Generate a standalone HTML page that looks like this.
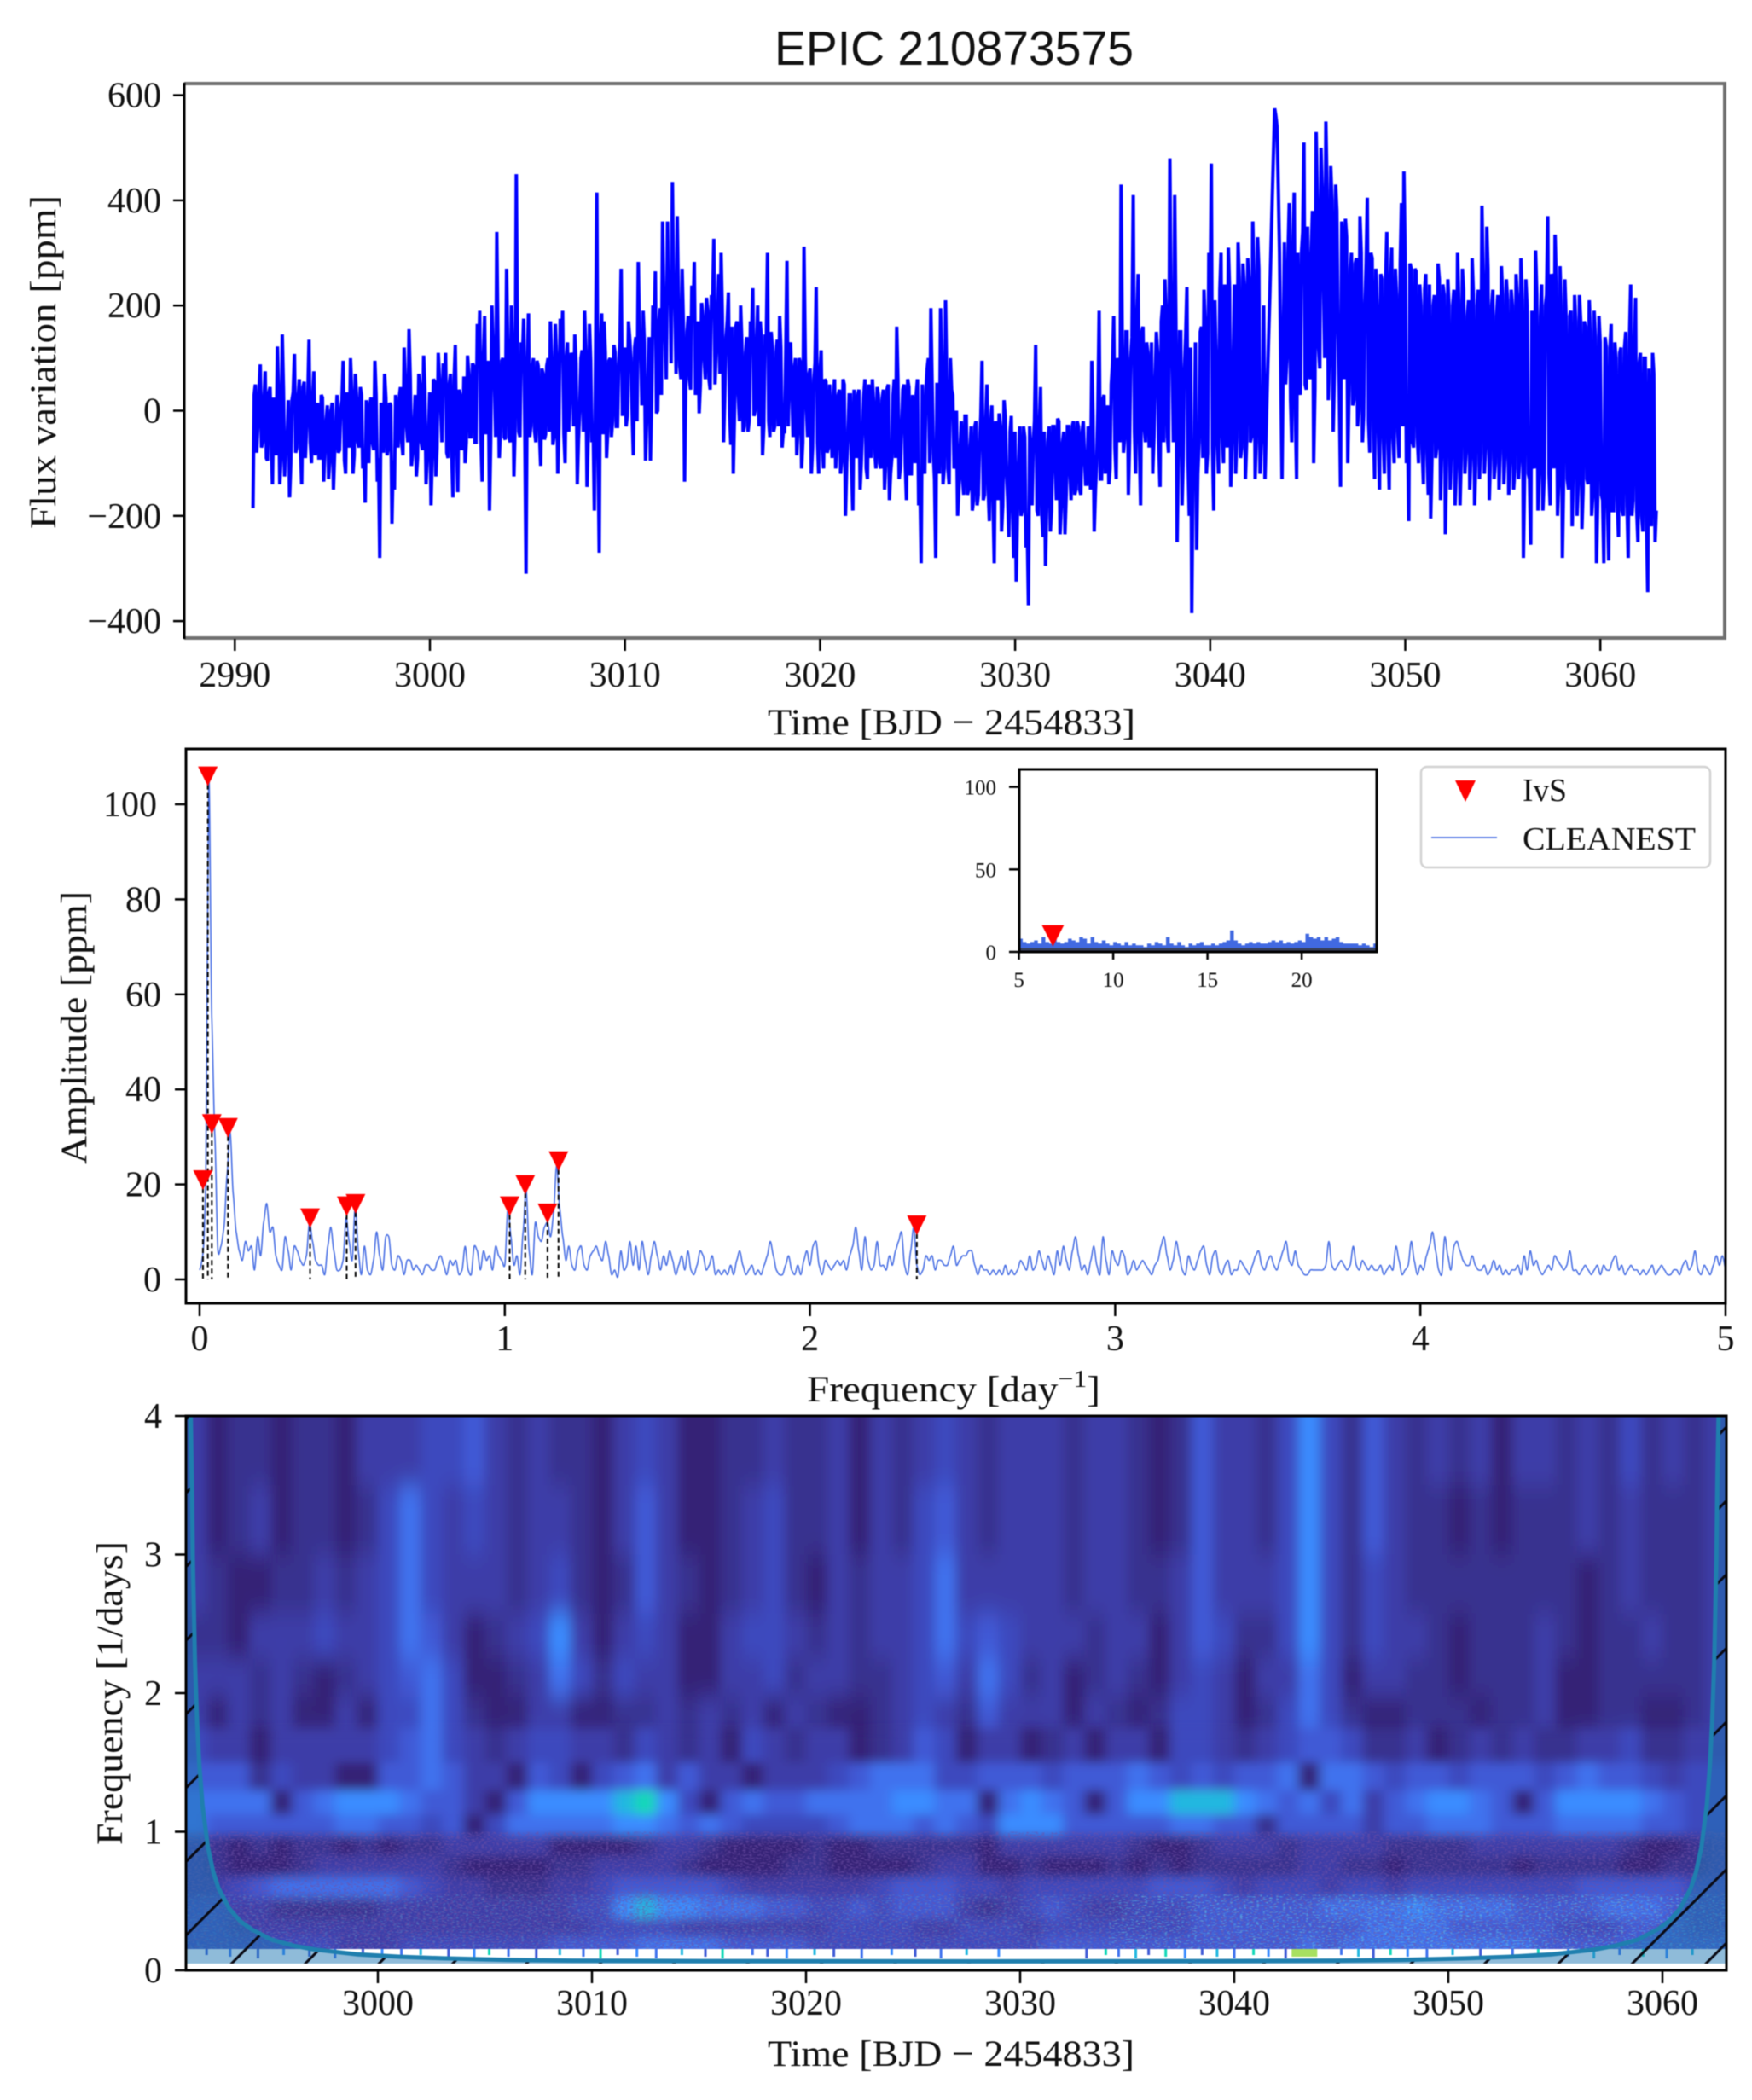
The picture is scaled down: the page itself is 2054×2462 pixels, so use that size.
<!DOCTYPE html>
<html lang="en">
<head>
<meta charset="utf-8">
<title>EPIC 210873575</title>
<style>
html,body{margin:0;padding:0;background:#fff;width:2054px;height:2462px;overflow:hidden}
svg{display:block;filter:blur(0.6px)}
text{font-family:"Liberation Serif",serif;fill:#111}
.tick{font-size:42px}
.axt{font-size:43px}
.ins{font-size:25px}
.leg{font-size:38px}
</style>
</head>
<body>
<svg id="fig" xmlns="http://www.w3.org/2000/svg" width="2054" height="2462" viewBox="0 0 2054 2462">
<defs>
<clipPath id="heat-clip"><rect x="218" y="1660" width="1806" height="650"/></clipPath>
<clipPath id="coi-clip"><path id="coi-clip-path" d=""/></clipPath>
<filter id="heat-blur-high" filterUnits="userSpaceOnUse" x="100" y="1400" width="2040" height="1100"><feGaussianBlur stdDeviation="7 14"/></filter>
<filter id="heat-blur-low" filterUnits="userSpaceOnUse" x="100" y="1800" width="2040" height="700"><feGaussianBlur stdDeviation="7 6"/></filter>
<filter id="speckle" x="0" y="0" width="1" height="1"><feTurbulence type="fractalNoise" baseFrequency="0.28 0.55" numOctaves="2" seed="3"/><feColorMatrix type="matrix" values="0 0 0 0 0.16  0 0 0 0 0.08  0 0 0 0 0.38  4 0 0 0 -1.8"/></filter>
<filter id="speckle-bright" x="0" y="0" width="1" height="1"><feTurbulence type="fractalNoise" baseFrequency="0.26 0.6" numOctaves="2" seed="11"/><feColorMatrix type="matrix" values="0 0 0 0 0.12  0 0 0 0 0.72  0 0 0 0 0.86  4.5 0 0 0 -2.4"/></filter>
</defs>
<rect x="0" y="0" width="2054" height="2462" fill="#fff"/>

<text x="908" y="76" style="font-family:'Liberation Sans',sans-serif;font-size:57px" textLength="421" lengthAdjust="spacingAndGlyphs">EPIC 210873575</text>

<g id="p1"></g>
<text class="axt" x="900" y="861" textLength="431" lengthAdjust="spacingAndGlyphs">Time [BJD − 2454833]</text>
<text class="axt" transform="translate(65 620) rotate(-90)" textLength="391" lengthAdjust="spacingAndGlyphs">Flux variation [ppm]</text>

<g id="p2"></g>
<text class="axt" x="946" y="1643" textLength="344" lengthAdjust="spacingAndGlyphs">Frequency [day<tspan font-size="29" dy="-17">−1</tspan><tspan dy="17">]</tspan></text>
<text class="axt" transform="translate(101 1365) rotate(-90)" textLength="320" lengthAdjust="spacingAndGlyphs">Amplitude [ppm]</text>

<g id="inset"></g>

<g>
<rect x="1666" y="899" width="339" height="118" rx="7" fill="#fff" fill-opacity="0.85" stroke="#d2d2d2" stroke-width="2.5"/>
<path d="M1706 915 L1730 915 L1718 940 Z" fill="#ff0000"/>
<text class="leg" x="1785" y="939" textLength="52" lengthAdjust="spacingAndGlyphs">IvS</text>
<line x1="1678" y1="982" x2="1755" y2="982" stroke="#6a8ae8" stroke-width="2"/>
<text class="leg" x="1785" y="996" textLength="203" lengthAdjust="spacingAndGlyphs">CLEANEST</text>
</g>

<g id="p3"></g>
<text class="axt" x="900" y="2422" textLength="430" lengthAdjust="spacingAndGlyphs">Time [BJD − 2454833]</text>
<text class="axt" transform="translate(143 2163) rotate(-90)" textLength="356" lengthAdjust="spacingAndGlyphs">Frequency [1/days]</text>
</svg>

<script>
/* ---------- light curve data ---------- */
const fluxStart = 2990.93;
const fluxStep = 0.125;
const fluxValues = [
-185,50,-30,88,-60,75,-95,45,
-140,-15,122,-140,145,-125,-60,-165,
20,108,-70,60,-140,55,-30,135,
-100,75,-60,-90,30,-135,-20,-130,
0,-150,-20,-80,5,95,-120,-30,
100,-120,70,-60,45,-110,-175,-30,
15,-60,95,-135,-280,0,70,-85,
15,-215,-150,-35,25,-60,120,-30,
155,-105,-30,-125,70,-60,105,-140,
-40,-180,60,-125,110,10,90,110,
-90,70,-165,125,-155,30,-60,-100,
105,-50,90,-60,165,190,-135,180,
0,-190,200,60,340,-90,95,-50,
270,-50,200,-125,450,-40,130,175,
-310,185,-30,100,-60,85,-105,70,
-45,100,170,-65,165,-120,175,190,
-100,130,20,100,145,-140,0,115,
190,-145,165,-60,-190,415,-270,185,
170,-90,95,-50,125,-30,90,270,
100,-30,170,100,-85,140,283,120,
190,-95,60,-95,200,265,0,195,
360,140,360,250,435,210,370,85,
270,-135,150,60,238,283,100,-5,
205,100,215,60,220,327,110,260,
300,-60,140,225,-65,-120,160,30,
200,-40,110,-40,170,233,0,200,
170,-85,145,300,-50,120,-30,135,
180,-70,-40,285,120,30,80,-85,
100,-110,312,0,70,-120,60,235,
-120,115,-110,55,-70,-15,25,-110,
30,-120,60,-200,-50,30,-190,-60,
30,-150,-30,60,-130,25,60,-80,
45,-100,20,-150,40,-170,-90,60,
160,-130,-30,50,-170,45,-120,-10,
30,-180,-290,-100,40,100,195,-80,
-280,50,195,-140,210,-110,100,30,
-100,-200,-70,-130,-10,-160,-80,-190,
-30,-180,-60,95,-160,50,-210,10,
-290,-50,-5,-230,20,-120,-240,-10,
-280,-325,-100,-200,-30,-260,-370,-90,
-60,125,-200,45,-240,-295,-60,-230,
-30,-100,-15,-235,-60,-235,-30,-120,
-30,-160,-20,-150,-40,-90,-140,-40,
95,-230,-100,190,-130,30,-30,-140,
50,180,-130,90,430,-80,150,-160,
100,410,-120,260,-180,160,-60,110,
0,-120,60,110,-145,200,250,-50,
480,100,410,-250,150,-180,80,235,
-200,-385,-100,-265,-60,160,230,-120,
300,470,-190,100,-120,300,-100,50,
310,-145,100,-120,320,-90,280,-130,
290,-60,360,-130,330,-120,-40,-130,
50,220,400,575,540,300,-130,320,
100,395,-60,415,-130,100,300,510,
40,100,300,-100,530,120,500,250,
550,20,465,-40,430,150,-145,300,
365,-100,270,10,280,-30,370,-60,
200,405,-80,290,-130,200,-150,250,
-120,340,-150,310,-100,220,-90,395,
455,-100,-210,270,-70,265,-100,200,
-140,260,-160,-205,200,-90,280,-170,
240,-235,250,-150,200,-180,300,-180,
270,-120,180,-150,290,-180,200,-130,
390,-120,350,-170,200,-130,180,-150,
275,-140,250,-160,230,-150,260,-130,
290,-280,250,-120,-255,-100,305,-190,
180,-190,200,370,-180,250,335,-200,
275,-280,250,-130,180,-220,220,-200,
220,-225,170,-130,210,-200,190,-290,
180,-160,-290,120,-285,165,-190,100,
-240,120,-200,150,-280,240,-170,215,
-250,110,-230,100,-345,-100,110,-250
];
/* samples falling half a step after each fluxValues sample */
const fluxMidValues = [
30,-80,40,-70,20,-90,35,-60,
25,-85,30,-95,40,-70,20,-100,
35,-80,25,-75,45,-90,30,-60,
20,-85,15,-90,25,-70,10,-95,
15,-80,30,-75,20,-95,35,-70,
40,-85,25,-70,30,-90,20,-100,
25,-75,30,-90,15,-80,25,-70,
10,-95,30,-70,45,-85,55,-60,
60,-80,30,-90,50,-75,40,-85,
35,-90,55,-70,60,-60,45,-80,
50,-85,60,-70,40,-75,65,-60,
70,-50,85,-60,90,-55,100,-45,
95,-60,110,-50,120,-40,100,-55,
130,-60,110,-30,120,-50,100,-40,
90,-50,85,-40,95,-45,80,-55,
85,-40,95,-50,100,-30,110,-45,
100,-40,110,-30,90,-55,100,-40,
110,-50,95,-30,100,-60,120,-45,
110,-40,100,-20,110,-30,130,-10,
120,-10,140,0,120,-20,150,10,
130,-10,140,20,150,-5,170,30,
200,60,220,90,230,70,200,60,
170,50,180,40,190,30,170,50,
180,60,190,40,200,50,190,70,
180,30,170,-10,160,0,170,-20,
130,-30,140,-20,150,-10,130,-30,
140,-30,120,-20,150,-40,110,-30,
120,-40,110,-30,130,-50,100,-40,
90,-60,100,-50,80,-70,90,-60,
70,-70,60,-80,50,-90,60,-70,
40,-90,50,-100,30,-110,40,-90,
40,-100,30,-110,50,-90,20,-110,
30,-110,40,-100,50,-120,30,-90,
60,-110,40,-100,60,-120,30,-100,
60,-130,50,-120,80,-100,60,-130,
50,-120,90,-110,60,-140,40,-110,
0,-150,-20,-160,-10,-150,-30,-170,
-20,-160,-10,-170,-30,-150,-20,-170,
-20,-170,-30,-180,-10,-170,-40,-190,
-40,-200,-30,-190,-50,-210,-30,-180,
-20,-190,-30,-200,-40,-180,-30,-190,
-30,-170,-20,-180,-40,-160,-30,-170,
-20,-150,-30,-160,-20,-140,-30,-150,
-10,-150,0,-130,20,-120,10,-110,
90,-70,100,-60,130,-50,150,-60,
140,-40,170,-60,150,-30,130,-70,
130,-50,150,-70,170,-60,180,-80,
190,-60,170,-70,150,-90,140,-100,
120,-130,130,-120,150,-90,170,-80,
190,-70,210,-60,230,-50,240,-70,
230,-60,240,-50,250,-70,240,-60,
250,-50,260,-60,270,-60,200,-40,
135,310,490,560,420,90,100,50,
300,20,320,-10,300,30,340,50,
350,60,380,40,400,80,420,100,
420,90,400,70,380,50,360,60,
330,40,300,20,290,0,300,-10,
280,-20,300,-30,270,-40,260,-50,
250,-60,260,-50,270,-40,280,-30,
300,-30,280,-60,270,-50,240,-70,
230,-80,240,-90,220,-70,250,-80,
220,-100,200,-90,230,-110,210,-90,
230,-80,210,-90,220,-100,230,-80,
260,-70,270,-90,230,-100,220,-80,
220,-90,210,-100,200,-110,220,-90,
210,-120,200,-130,190,-110,220,-120,
240,-130,220,-120,260,-110,240,-140,
200,-140,180,-150,190,-130,170,-140,
170,-150,160,-140,150,-160,140,-170,
130,-170,140,-180,120,-190,130,-170,
110,-190,120,-180,130,-200,140,-190,
90,-200,100,-210,80,-220,70,-190
];
const fluxXTicks = [2990,3000,3010,3020,3030,3040,3050,3060];
const fluxYTicks = [-400,-200,0,200,400,600];

/* ---------- spectrum data ---------- */
const specStep = 0.01;
const specAmps = [
2,5,20,106,55,30,6,7,11,22,31,18,10,6,4,8,6,7,2,9,
5,12,16,10,11,5,3,2,9,6,2,7,6,4,3,5,12,8,4,3,
3,1,7,11,6,2,2,4,13,8,4,16,6,1,7,2,1,4,10,5,
2,9,9,3,2,5,4,1,4,4,2,3,2,1,3,3,2,2,4,5,
3,1,4,3,4,1,2,7,2,1,7,6,2,6,4,5,2,7,5,4,
3,15,9,3,5,1,10,19,6,1,12,9,8,11,12,9,14,24,15,9,
4,7,3,2,6,7,3,2,5,6,7,5,4,8,5,1,2,0.5,6,2,
3,8,3,7,2,8,4,1,5,8,5,2,5,3,6,4,1,3,5,2,
6,2,1,3,6,5,2,3,5,1,2,1,2,1,3,1,4,6,3,1,
2,3,1,2,1,3,5,8,5,2,1,1,3,5,2,1,3,1,4,6,
3,7,8,3,1,4,3,2,3,4,3,4,2,5,7,11,6,2,9,4,
2,3,8,3,3,2,5,3,6,8,10,3,1,6,11,3,1,2,5,4,
5,2,4,4,3,3,5,7,3,4,5,5,6,6,3,1,3,2,2,1,
2,1,2,1,3,1,2,1,2,4,3,2,5,2,3,6,4,2,5,3,
1,6,3,7,4,2,6,9,5,2,3,1,4,7,3,1,9,4,1,6,
4,3,6,5,1,2,4,2,3,4,3,2,1,3,4,7,9,5,2,4,
8,5,2,1,5,3,2,4,6,7,3,1,5,6,2,1,3,4,1,2,
2,4,3,2,1,3,5,6,3,2,4,5,3,2,4,6,8,4,3,6,
3,2,1,1,2,2,2,2,2,3,8,3,2,3,4,3,2,3,7,3,
2,4,3,2,3,2,2,3,1,2,3,2,7,4,1,2,3,8,4,1,
3,2,5,7,10,6,2,1,9,5,2,7,8,6,4,3,3,5,3,2,
2,3,1,2,4,2,3,1,2,1,2,2,3,1,5,2,6,3,4,2,
1,2,3,2,5,4,3,2,3,6,2,2,1,2,3,2,1,2,3,1,
3,2,2,4,5,2,3,1,2,3,2,2,1,2,1,2,3,1,2,3,
2,1,1,2,2,1,3,4,2,3,6,2,1,3,2,1,3,5,3,5,
2
];
const ivsFreqs = [0.011,0.027,0.04,0.093,0.362,0.482,0.511,1.016,1.067,1.14,1.176,2.35];
const ivsAmps = [21,106,32.8,32,13,15.5,16,15.5,20,14,25,11.5];
const specXTicks = [0,1,2,3,4,5];
const specYTicks = [0,20,40,60,80,100];

/* ---------- inset data ---------- */
const insetStart = 5;
const insetStep = 0.2;
const insetAmps = [
8,6,5,6,7,5,9,6,5,8,
6,5,6,8,7,6,9,8,5,9,
6,5,7,5,4,6,5,4,6,4,
5,4,4,3,5,4,6,5,4,9,
5,4,6,4,3,5,4,5,6,4,
4,5,4,5,6,7,13,7,5,4,
5,6,5,6,5,5,6,7,6,7,
5,6,5,6,7,6,11,9,8,9,
7,9,7,8,9,6,5,5,5,5,
4,5,4,3,5
];
const insetIvsFreqs = [6.8];
const insetIvsAmps = [10];
const insetXTicks = [5,10,15,20];
const insetYTicks = [0,50,100];

/* ---------- wavelet data ---------- */
const heatStartDay = 2991;
const heatFreqs = [3.75,3.25,2.75,2.4,2.1,1.85,1.6,1.4,1.2,1.05,0.9,0.75,0.6,0.45,0.3,0.18];
const heatPalette = ['#33185a','#362476','#39308f','#3c3ca8','#3e49be','#3f5ad6','#3f72ee','#3b8cff','#22b8e0','#14d8b8'];
const heatRow375 = [3,1,2,2,1,2,2,1,3,3, 3,4,4,5,3,2,3,2,2,1, 3,4,3,1,1,2,2,3,2,2, 3,1,3,2,3,4,3,2,3,3, 3,2,3,3,2,1,2,5,3,3, 2,4,7,4,2,5,3,2,3,2, 3,1,3,3,2,3,2,4,2,3, 2,3];
const heatRow325 = [3,1,2,3,1,2,2,1,2,4, 6,4,3,4,3,2,3,3,2,1, 3,5,3,1,1,2,3,4,2,2, 3,1,3,2,4,5,3,2,3,3, 3,2,3,3,2,1,2,5,3,3, 2,4,7,4,2,5,3,2,2,1, 2,1,2,2,2,3,2,3,2,2, 2,3];
const heatRow275 = [3,2,1,1,2,2,3,2,3,4, 6,4,3,3,3,2,3,4,2,1, 2,5,3,2,1,2,3,4,2,1, 3,2,3,3,4,6,3,3,3,3, 3,2,3,3,2,2,3,5,3,3, 3,4,7,4,2,4,3,2,2,2, 2,2,2,2,2,1,2,3,2,2, 2,3];
const heatRow240 = [2,2,1,3,3,3,4,3,3,4, 6,5,3,1,2,3,4,7,3,1, 3,4,3,1,1,3,4,4,3,2, 3,2,3,3,4,6,4,5,4,3, 3,3,2,3,3,1,3,5,4,2, 2,4,7,4,2,4,3,3,2,1, 2,2,2,3,2,1,2,2,3,2, 2,3];
const heatRow210 = [3,3,3,2,3,2,1,2,3,4, 5,6,4,1,1,2,3,6,4,2, 4,3,3,1,1,3,3,4,2,3, 3,2,2,3,4,5,3,6,4,2, 3,1,2,3,2,1,3,4,3,1, 3,3,6,4,1,3,3,2,2,1, 2,2,2,3,1,1,2,2,2,2, 2,3];
const heatRow185 = [3,1,3,2,3,1,1,3,1,4, 4,6,4,2,1,1,3,3,1,1, 2,2,3,2,3,2,3,1,3,2, 1,1,2,3,4,3,2,5,3,3, 3,1,3,2,1,2,4,4,3,1, 2,4,6,4,2,1,1,2,2,2, 1,2,2,3,1,1,2,2,1,1, 2,3];
const heatRow160 = [4,3,3,1,3,3,3,3,3,4, 5,6,4,3,2,3,4,4,3,3, 2,4,3,2,3,1,4,3,2,3, 3,1,2,3,5,4,1,3,3,1, 2,3,1,3,3,1,4,4,3,2, 3,4,5,5,4,2,2,3,1,2, 3,2,3,2,2,3,3,4,2,2, 3,3];
const heatRow140 = [5,5,5,2,4,3,3,1,1,5, 5,6,5,3,3,1,5,4,1,4, 5,6,3,5,3,3,1,3,3,3, 4,5,6,6,6,4,4,5,5,5, 4,5,5,5,6,5,4,5,4,5, 5,6,1,6,6,5,4,5,5,4, 5,5,5,4,5,6,5,5,4,3, 4,4];
const heatRow120 = [6,6,6,6,1,5,6,7,7,7, 6,5,5,3,1,5,7,7,7,7, 8,9,7,4,1,5,6,5,5,6, 6,6,6,7,7,6,6,1,6,7, 6,5,1,5,7,7,8,8,8,7, 6,5,6,4,6,3,5,6,7,7, 6,5,1,5,7,7,7,7,6,5, 4,4];
const heatRow105 = [6,5,5,5,5,5,5,6,6,5, 5,4,5,1,4,6,6,6,6,6, 7,7,6,5,6,5,4,4,4,4, 5,6,6,6,5,6,5,4,7,7, 7,5,5,5,5,5,6,6,5,5, 2,5,5,5,5,3,5,5,6,6, 6,5,5,5,6,6,6,6,5,5, 4,4];
const heatRow090 = [3,2,1,2,1,2,2,1,2,1, 2,2,3,3,3,3,3,1,1,1, 1,2,3,3,2,1,1,1,1,2, 1,1,2,2,2,2,2,1,3,3, 3,3,3,3,2,1,1,2,3,3, 3,2,3,3,3,3,2,2,2,2, 3,3,3,3,3,3,3,2,1,1, 2,3];
const heatRow075 = [3,2,1,1,1,2,3,3,3,3, 3,3,2,1,1,1,1,2,2,3, 3,3,3,2,1,1,1,1,2,2, 1,1,1,1,2,3,3,1,1,2, 1,1,1,2,1,2,1,2,2,2, 2,2,3,3,2,2,1,2,2,2, 2,2,1,2,2,2,2,1,1,2, 2,3];
const heatRow060 = [3,3,4,5,6,6,6,6,6,6, 5,4,3,3,2,2,2,3,3,4, 5,5,5,5,5,4,3,3,3,3, 3,3,4,5,5,5,4,4,3,4, 4,4,4,4,4,5,5,5,4,3, 4,4,4,3,4,4,3,4,4,4, 4,4,4,4,4,5,5,5,5,5, 4,4];
const heatRow045 = [4,4,3,3,2,2,2,2,2,3, 3,3,3,3,3,3,3,3,4,4, 7,8,7,7,6,6,6,5,5,4, 4,5,4,5,5,5,3,2,3,4, 5,4,3,3,4,4,4,5,5,5, 5,5,5,6,6,6,6,7,6,6, 6,6,5,5,5,5,6,6,6,5, 4,4];
const heatRow030 = [4,4,3,3,3,3,3,3,3,3, 3,3,3,3,3,3,3,3,3,4, 4,4,4,3,3,3,3,3,3,3, 4,4,4,4,3,3,4,4,4,3, 4,4,4,4,4,4,4,5,5,5, 5,5,5,5,5,6,6,6,6,5, 5,5,5,5,4,4,4,5,5,5, 4,4];
const heatRow018 = [4,4,4,4,4,4,4,3,3,3, 4,4,4,4,4,4,4,5,5,5, 5,6,6,6,6,5,5,5,5,4, 4,4,4,4,4,4,4,4,4,4, 5,5,5,5,5,5,5,5,5,5, 5,5,6,5,6,6,6,6,6,6, 6,6,6,5,5,5,5,5,5,5, 5,5];
const heatRows = [heatRow375,heatRow325,heatRow275,heatRow240,heatRow210,heatRow185,heatRow160,heatRow140,heatRow120,heatRow105,heatRow090,heatRow075,heatRow060,heatRow045,heatRow030,heatRow018];
const coiOffsets = [0.2,0.25,0.3,0.4,0.5,0.6,0.75,1,1.25,1.5,2,2.5,3,4,5,6,8,10,12,15,18,24,36];
const coiFreqs = [4,3.56,2.97,2.22,1.78,1.48,1.19,0.89,0.71,0.59,0.445,0.356,0.3,0.22,0.178,0.15,0.115,0.098,0.087,0.076,0.07,0.067,0.065];
const stripTicks = [2992,2993.1,2994.4,2995.6,2996.8,2998,2999.3,3000.2,3001.1,3002,3003.3,3004.5,3005.2,3006.1,3007.4,3008.5,3009.6,3010.4,3011.2,3012.1,3013,3014.2,3015.3,3016.1,3017.5,3018.2,3019.1,3020.4,3021.3,3022.6,3024,3025.1,3026.3,3027.5,3029,3033.1,3034,3034.6,3035.4,3036,3036.8,3037.7,3038.5,3039.2,3040,3040.9,3041.6,3042.4,3045,3045.8,3046.5,3047.3,3048.1,3049,3050.2,3051.5,3053,3054.2,3055.6,3056.8,3058,3059.1,3060.2,3061.4];
const stripLevels = [5,6,5,7,5,6,5,7,6,8,5,7,9,6,5,8,6,9,5,7,6,8,5,9,6,5,7,8,5,6,7,5,6,8,7,5,9,6,8,5,9,7,5,8,6,9,7,5,6,8,5,9,7,6,8,5,6,9,7,8,6,9,7,8];
const waveXTicks = [3000,3010,3020,3030,3040,3050,3060];
const waveYTicks = [0,1,2,3,4];

/* ---------- axis functions ---------- */
const fluxX = t => 504 + (t - 3000) * 22.87;
const fluxY = v => 481.5 - v * 0.6165;
const specX = f => 234 + f * 357.8;
const specY = a => 1500 - a * 5.57;
const insetX = f => 1194.6 + (f - 5) * 22.1;
const insetY = a => 1116 - a * 1.934;
const waveX = t => 443 + (t - 3000) * 25.1;
const waveY = f => 2310 - f * 162.5;

const NS = 'http://www.w3.org/2000/svg';
function mk(tag, parent, attrs) {
  const el = document.createElementNS(NS, tag);
  for (const k in attrs) el.setAttribute(k, attrs[k]);
  parent.appendChild(el);
  return el;
}
const p1 = document.getElementById('p1');
const p2 = document.getElementById('p2');
const ins = document.getElementById('inset');
const p3 = document.getElementById('p3');
function fmt(v) { return String(v).replace('-', '\u2212'); }

/* panel 1 */
{
  const merged = [];
  fluxValues.forEach((v, i) => {
    merged.push(fluxX(fluxStart + i * fluxStep).toFixed(1) + ',' + fluxY(v).toFixed(1));
    merged.push(fluxX(fluxStart + (i + 0.5) * fluxStep).toFixed(1) + ',' + fluxY(fluxMidValues[i]).toFixed(1));
  });
  const line = mk('polyline', p1, {points: merged.join(' '), fill: 'none', stroke: '#0000ff', 'stroke-width': 4, 'stroke-linejoin': 'miter', 'stroke-miterlimit': 3});
  
  
  const frame = mk('path', p1, {d: 'M216 98 H2022 V748 H216', fill: 'none', stroke: '#707070', 'stroke-width': 4});
  
  
  const spine = mk('line', p1, {x1: 216, y1: 97, x2: 216, y2: 749, stroke: '#000', 'stroke-width': 3});
  
  
  fluxXTicks.forEach(t => {
    const tk = mk('line', p1, {x1: fluxX(t), x2: fluxX(t), y1: 749, y2: 763, stroke: '#000', 'stroke-width': 2.5});
    
    
    const lb = mk('text', p1, {x: fluxX(t), y: 805, 'text-anchor': 'middle', class: 'tick'});
    
    
    lb.textContent = fmt(t);
  });
  fluxYTicks.forEach(v => {
    const tk = mk('line', p1, {x1: 203, x2: 216, y1: fluxY(v), y2: fluxY(v), stroke: '#000', 'stroke-width': 2.5});
    
    
    const lb = mk('text', p1, {x: 189, y: fluxY(v) + 14, 'text-anchor': 'end', class: 'tick'});
    
    
    lb.textContent = fmt(v);
  });
}

/* panel 2 */
{
  const pts = specAmps.map((a, i) => [specX(i * specStep), specY(a)]);
  let d = `M${pts[0][0].toFixed(1)} ${pts[0][1].toFixed(1)}`;
  for (let i = 0; i < pts.length - 1; i++) {
    const p0 = pts[Math.max(i - 1, 0)], p1a = pts[i], p2a = pts[i + 1], p3a = pts[Math.min(i + 2, pts.length - 1)];
    const c1x = p1a[0] + (p2a[0] - p0[0]) / 6, c1y = Math.min(1503, p1a[1] + (p2a[1] - p0[1]) / 12);
    const c2x = p2a[0] - (p3a[0] - p1a[0]) / 6, c2y = Math.min(1503, p2a[1] - (p3a[1] - p1a[1]) / 12);
    d += ` C${c1x.toFixed(1)} ${c1y.toFixed(1)} ${c2x.toFixed(1)} ${c2y.toFixed(1)} ${p2a[0].toFixed(1)} ${p2a[1].toFixed(1)}`;
  }
  const line = mk('path', p2, {d: d, fill: 'none', stroke: '#4a70e4', 'stroke-width': 1.6, 'stroke-linejoin': 'round'});
  
  
  ivsFreqs.forEach((f, i) => {
    const dl = mk('line', p2, {x1: specX(f), x2: specX(f), y1: specY(ivsAmps[i]), y2: specY(0), stroke: '#000', 'stroke-width': 2, 'stroke-dasharray': '6 4'});
    
    
  });
  ivsFreqs.forEach((f, i) => {
    const x = specX(f), y = specY(ivsAmps[i]);
    const m = mk('path', p2, {d: `M${x - 11.5} ${y - 11} L${x + 11.5} ${y - 11} L${x} ${y + 12} Z`, fill: '#ff0000'});
    
    
  });
  const frame = mk('rect', p2, {x: 218, y: 878, width: 1805, height: 650, fill: 'none', stroke: '#000', 'stroke-width': 3});
  
  
  specXTicks.forEach(t => {
    const tk = mk('line', p2, {x1: specX(t), x2: specX(t), y1: 1529, y2: 1543, stroke: '#000', 'stroke-width': 2.5});
    
    
    const lb = mk('text', p2, {x: specX(t), y: 1583, 'text-anchor': 'middle', class: 'tick'});
    
    
    lb.textContent = fmt(t);
  });
  specYTicks.forEach(v => {
    const tk = mk('line', p2, {x1: 205, x2: 218, y1: specY(v), y2: specY(v), stroke: '#000', 'stroke-width': 2.5});
    
    
    const lb = mk('text', p2, {x: v === 100 ? 184 : 189, y: specY(v) + 14, 'text-anchor': 'end', class: 'tick'});
    
    
    lb.textContent = fmt(v);
  });
}

/* inset */
{
  let d = `M${insetX(insetStart)} ${insetY(0)}`;
  insetAmps.forEach((a, i) => {
    const x0 = insetX(insetStart + i * insetStep), x1 = insetX(insetStart + (i + 1) * insetStep);
    d += ` L${x0.toFixed(1)} ${insetY(a).toFixed(1)} L${x1.toFixed(1)} ${insetY(a).toFixed(1)}`;
  });
  d += ` L${insetX(insetStart + insetAmps.length * insetStep)} ${insetY(0)} Z`;
  const area = mk('path', ins, {d: d, fill: '#4169e1'});
  
  
  const base = mk('line', ins, {x1: 1195, x2: 1614, y1: 1113, y2: 1113, stroke: '#38405c', 'stroke-width': 3});
  
  
  insetIvsFreqs.forEach((f, i) => {
    const x = insetX(f), y = insetY(insetIvsAmps[i]);
    const m = mk('path', ins, {d: `M${x - 13} ${y - 12} L${x + 13} ${y - 12} L${x} ${y + 13} Z`, fill: '#ff0000'});
    
    
  });
  const frame = mk('rect', ins, {x: 1195, y: 902, width: 419, height: 214, fill: 'none', stroke: '#000', 'stroke-width': 3});
  
  
  insetXTicks.forEach(t => {
    const tk = mk('line', ins, {x1: insetX(t), x2: insetX(t), y1: 1116, y2: 1125, stroke: '#000', 'stroke-width': 2.5});
    
    
    const lb = mk('text', ins, {x: insetX(t), y: 1157, 'text-anchor': 'middle', class: 'ins'});
    
    
    lb.textContent = fmt(t);
  });
  insetYTicks.forEach(v => {
    const tk = mk('line', ins, {x1: 1183, x2: 1195, y1: insetY(v), y2: insetY(v), stroke: '#000', 'stroke-width': 2.5});
    
    
    const lb = mk('text', ins, {x: 1168, y: insetY(v) + 9, 'text-anchor': 'end', class: 'ins'});
    
    
    lb.textContent = fmt(v);
  });
}

/* panel 3 */
{
  const clip = mk('g', p3, {'clip-path': 'url(#heat-clip)'});
  
  
  const backing = mk('rect', clip, {x: 218, y: 1660, width: 1806, height: 650, fill: '#3c3ca8'});
  
  
  const heatHigh = mk('g', clip, {filter: 'url(#heat-blur-high)'});
  
  
  const heatLow = mk('g', clip, {filter: 'url(#heat-blur-low)'});
  
  
  heatRows.forEach((row, r) => {
    const fTop = r === 0 ? 5.2 : (heatFreqs[r] + heatFreqs[r - 1]) / 2;
    const fBot = r === heatRows.length - 1 ? 0 : (heatFreqs[r] + heatFreqs[r + 1]) / 2;
    row.forEach((lvl, c) => {
      const x0 = c === 0 ? 120 : waveX(heatStartDay + c);
      const x1 = c === row.length - 1 ? 2130 : waveX(heatStartDay + c + 1);
      const attrs = {x: x0.toFixed(1), y: waveY(fTop).toFixed(1), width: (x1 - x0 + 0.6).toFixed(1), height: (waveY(fBot) - waveY(fTop) + 0.6).toFixed(1), fill: heatPalette[lvl]};
      if (r <= 8) {
        const cellHigh = mk('rect', heatHigh, attrs);
        
        
      }
      if (r >= 6) {
        const cellLow = mk('rect', heatLow, attrs);
        
        
      }
    });
  });
  const speck = mk('rect', clip, {x: 218, y: waveY(1), width: 1806, height: waveY(0.13) - waveY(1), filter: 'url(#speckle)', opacity: 0.6});
  
  
  const brightLeft = mk('rect', clip, {x: 218, y: waveY(0.55), width: 1082, height: waveY(0.13) - waveY(0.55), filter: 'url(#speckle-bright)', opacity: 0.25});
  
  
  const brightRight = mk('rect', clip, {x: 1300, y: waveY(0.55), width: 724, height: waveY(0.13) - waveY(0.55), filter: 'url(#speckle-bright)', opacity: 0.5});
  
  
  const strip = mk('rect', clip, {x: 218, y: 2285, width: 1806, height: 25, fill: '#fff'});
  
  
  stripTicks.forEach((t, i) => {
    const s = mk('rect', clip, {x: waveX(t) - 1.5, y: 2285, width: 3, height: 7 + (i % 3) * 2, fill: heatPalette[stripLevels[i]]});
    
    
  });
  const blockColor = mk('rect', clip, {x: waveX(3043) - 8, y: 2285, width: 30, height: 9, fill: '#a8e060'});
  
  

  /* cone of influence built from the read offsets */
  const tL = 2991.06, tR = 3062.82;
  const leftPts = coiOffsets.map((o, i) => [waveX(tL + o), waveY(coiFreqs[i])]);
  const rightPts = coiOffsets.map((o, i) => [waveX(tR - o), waveY(coiFreqs[i])]).reverse();
  const curve = leftPts.concat(rightPts);
  const lineD = 'M' + curve.map(p => p[0].toFixed(1) + ' ' + p[1].toFixed(1)).join(' L');
  const regionD = 'M218 1660 L' + curve.map(p => p[0].toFixed(1) + ' ' + p[1].toFixed(1)).join(' L') + ' L2024 1660 L2024 2302 L218 2302 Z';
  const region = mk('path', clip, {d: regionD, fill: '#1f77b4', 'fill-opacity': 0.5});
  
  
  document.getElementById('coi-clip-path').setAttribute('d', regionD);
  const hatch = mk('g', clip, {'clip-path': 'url(#coi-clip)'});
  
  
  for (let s = 2487 - 86.43 * 10; s < 4400; s += 86.43) {
    const h = mk('line', hatch, {x1: s - 2400, y1: 2400, x2: s - 1600, y2: 1600, stroke: '#0a0a14', 'stroke-width': 3});
    
    
  }
  const coi = mk('path', clip, {d: lineD, fill: 'none', stroke: '#1f7fae', 'stroke-width': 5});
  
  

  const frame = mk('rect', p3, {x: 218, y: 1660, width: 1806, height: 650, fill: 'none', stroke: '#000', 'stroke-width': 3});
  
  
  waveXTicks.forEach(t => {
    const tk = mk('line', p3, {x1: waveX(t), x2: waveX(t), y1: 2311, y2: 2325, stroke: '#000', 'stroke-width': 2.5});
    
    
    const lb = mk('text', p3, {x: waveX(t), y: 2362, 'text-anchor': 'middle', class: 'tick'});
    
    
    lb.textContent = fmt(t);
  });
  waveYTicks.forEach(v => {
    const tk = mk('line', p3, {x1: 205, x2: 218, y1: waveY(v), y2: waveY(v), stroke: '#000', 'stroke-width': 2.5});
    
    
    const lb = mk('text', p3, {x: 190, y: waveY(v) + 14, 'text-anchor': 'end', class: 'tick'});
    
    
    lb.textContent = fmt(v);
  });
}
</script>
</body>
</html>
